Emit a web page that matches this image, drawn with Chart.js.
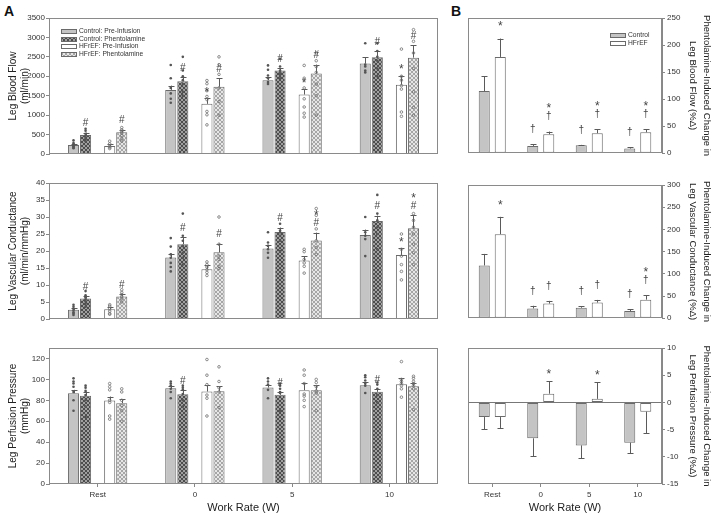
<!DOCTYPE html>
<html>
<head>
<meta charset="utf-8">
<script src="https://cdn.jsdelivr.net/npm/chart.js@4.4.1/dist/chart.umd.min.js"></script>
<style>
body { margin: 0; background: #fff; }
#fig { position: relative; width: 713px; height: 515px; overflow: hidden; font-family: "Liberation Sans", Arial, sans-serif; }
canvas { position: absolute; }
.tag { position: absolute; font-weight: bold; font-size: 14px; line-height: 1; color: #111; }
</style>
</head>
<body>
<div id="fig">
  <div class="tag" style="left:4px;top:4px">A</div>
  <div class="tag" style="left:451px;top:4px">B</div>
  <canvas id="flowA" width="440" height="160" style="left:0;top:0"></canvas>
  <canvas id="condA" width="440" height="165" style="left:0;top:160px"></canvas>
  <canvas id="pressA" width="440" height="190" style="left:0;top:325px"></canvas>
  <canvas id="flowB" width="258" height="160" style="left:455px;top:0"></canvas>
  <canvas id="condB" width="258" height="165" style="left:455px;top:160px"></canvas>
  <canvas id="pressB" width="258" height="190" style="left:455px;top:325px"></canvas>
</div>
<script>
const workRates = ["Rest", "0", "5", "10"];

// A: leg blood flow (ml/min), mean, SEM, individual subjects, marks
const flowCtrlPre = [230, 1650, 1900, 2330];
const flowCtrlPreSem = [40, 110, 70, 160];
const flowCtrlPreDots = [[350, 280, 250, 220, 200, 170, 150], [2290, 1950, 1700, 1560, 1420, 1320], [2280, 2170, 2020, 1950, 1850, 1800], [2850, 2300, 2250, 2150, 2100]];
const flowCtrlPhen = [490, 1870, 2150, 2490];
const flowCtrlPhenSem = [60, 110, 60, 150];
const flowCtrlPhenDots = [[650, 600, 520, 470, 420, 380, 330], [2500, 2150, 2000, 1900, 1800, 1600, 1500], [2450, 2250, 2150, 2100, 2050, 1950], [2850, 2650, 2500, 2400, 2200, 2000]];
const flowCtrlPhenMarks = ["#", "#", "#", "#"];
const flowHfPre = [207, 1290, 1530, 1780];
const flowHfPreSem = [45, 140, 140, 240];
const flowHfPreDots = [[330, 260, 200, 170, 140], [1890, 1810, 1630, 1480, 1400, 1095, 1010, 750], [2280, 1950, 1700, 1420, 1210, 1050, 950], [2700, 2000, 1900, 1760, 1670, 1080, 970]];
const flowHfPreMarks = ["", "*", "*", "*"];
const flowHfPhen = [560, 1730, 2070, 2480];
const flowHfPhenSem = [70, 220, 230, 320];
const flowHfPhenDots = [[680, 620, 580, 540, 480, 400, 330], [2500, 2300, 2050, 1700, 1350, 1000], [2600, 2400, 2250, 2100, 1800, 1500, 1000], [3200, 2900, 2600, 2200, 1600, 1200, 1000]];
const flowHfPhenMarks = ["#", "#", "#", "#"];

// A: leg vascular conductance (ml/min/mmHg)
const condCtrlPre = [2.7, 18.1, 20.7, 24.7];
const condCtrlPreSem = [0.5, 1.1, 1.1, 1.6];
const condCtrlPreDots = [[4.2, 3.6, 3.0, 2.5, 2.0, 1.6, 1.2], [23.8, 21.3, 19.0, 18.0, 16.5, 15.3, 14.0], [25.5, 22.5, 21.5, 20.5, 19.5, 18.0], [30.0, 25.5, 24.5, 23.5, 18.5]];
const condCtrlPhen = [6.0, 22.0, 25.6, 28.8];
const condCtrlPhenSem = [0.8, 2.0, 1.3, 1.6];
const condCtrlPhenDots = [[8.2, 7.0, 6.4, 5.8, 5.2, 4.5, 3.6], [31.0, 24.5, 23.0, 21.5, 19.5, 18.0, 16.0], [28.0, 26.0, 25.5, 24.5, 23.0, 20.0], [36.5, 31.0, 29.0, 27.0, 25.0, 20.5]];
const condCtrlPhenMarks = ["#", "#", "#", "#"];
const condHfPre = [2.9, 14.6, 17.2, 18.8];
const condHfPreSem = [0.5, 1.3, 1.2, 2.0];
const condHfPreDots = [[4.2, 3.8, 3.0, 2.3, 1.6, 1.4], [16.8, 16.0, 15.3, 14.5, 13.7, 12.8], [20.5, 19.8, 17.5, 16.5, 15.5, 13.5], [25.0, 20.5, 18.5, 16.0, 14.0, 11.5]];
const condHfPreMarks = ["", "", "", "*"];
const condHfPhen = [6.6, 19.6, 23.1, 26.7];
const condHfPhenSem = [0.8, 2.6, 2.3, 3.9];
const condHfPhenDots = [[8.6, 7.8, 7.2, 6.5, 6.0, 5.0], [30.0, 22.0, 18.5, 17.5, 15.5, 14.8], [32.5, 30.5, 26.5, 23.0, 21.0, 19.0], [31.0, 29.0, 27.0, 25.0, 22.0, 19.5, 16.0]];
const condHfPhenMarks = ["#", "#", "*#", "*#"];

// A: leg perfusion pressure (mmHg)
const pressCtrlPre = [86.8, 91.6, 92.2, 94.5];
const pressCtrlPreSem = [3.2, 2.5, 2.6, 2.9];
const pressCtrlPreDots = [[101, 98, 96, 93, 88, 80, 70], [98, 96, 94, 91, 88, 82], [101, 98, 95, 90, 82], [104, 102, 99, 96, 94, 87]];
const pressCtrlPhen = [84.3, 85.9, 85.2, 88.1];
const pressCtrlPhenSem = [4.0, 3.5, 2.6, 2.9];
const pressCtrlPhenDots = [[94, 92, 89, 85, 80, 74, 64], [94, 92, 90, 86, 80, 74], [96, 94, 91, 88, 87, 70], [97, 95, 91, 85, 78]];
const pressCtrlPhenMarks = ["", "#", "#", "#"];
const pressHfPre = [79.8, 88.4, 89.7, 95.4];
const pressHfPreSem = [3.8, 6.4, 6.7, 5.8];
const pressHfPreDots = [[96, 93, 90, 80, 78, 65, 62], [119, 104, 95, 85, 82, 65], [109, 104, 96, 86, 84, 80, 74], [117, 100, 98, 96, 94, 91, 83]];
const pressHfPhen = [77.2, 88.7, 89.7, 93.5];
const pressHfPhenSem = [3.8, 4.5, 4.5, 3.5];
const pressHfPhenDots = [[91, 88, 80, 75, 70, 60], [112, 98, 92, 88, 73], [100, 97, 93, 89, 87, 70], [103, 101, 98, 96, 94, 91, 71]];

// B: phentolamine-induced change (%)
const dFlowCtrl = [114.9, 13.5, 14.7, 8.6];
const dFlowCtrlSem = [27, 3, 0.7, 2];
const dFlowCtrlMarks = ["", "†", "†", "†"];
const dFlowHf = [178, 35, 36.9, 38.7];
const dFlowHfSem = [34, 5, 7, 6];
const dFlowHfMarks = ["*", "*†", "*†", "*†"];
const dCondCtrl = [118.8, 22, 23.5, 16.1];
const dCondCtrlSem = [26, 6, 3.7, 3.7];
const dCondCtrlMarks = ["", "†", "†", "†"];
const dCondHf = [189.3, 33, 35.2, 41.8];
const dCondHfSem = [39, 6, 6, 10];
const dCondHfMarks = ["*", "†", "†", "*†"];
const dPressCtrl = [-2.7, -6.6, -7.9, -7.4];
const dPressCtrlSem = [2.2, 3.3, 2.4, 1.9];
const dPressHf = [-2.7, 1.6, 0.65, -1.7];
const dPressHfSem = [2.0, 2.3, 3.1, 4.0];
const dPressHfMarks = ["", "*", "*", ""];

Chart.defaults.font.family = '"Liberation Sans", Arial, sans-serif';
Chart.defaults.color = '#333';

function hatch(base, ink) {
    const c = document.createElement('canvas');
    c.width = c.height = 4;
    const g = c.getContext('2d');
    g.fillStyle = base;
    g.fillRect(0, 0, 4, 4);
    g.fillStyle = ink;
    for (let i = 0; i < 4; i++) {
        g.fillRect(i, i, 1, 1);
        g.fillRect(3 - i, i, 1, 1);
    }
    return g.createPattern(c, 'repeat');
}

const fillCtrlPre = '#c4c4c4';
const fillCtrlPhen = hatch('#a0a0a0', '#4d4d4d');
const fillHfPre = '#ffffff';
const fillHfPhen = hatch('#e6e6e6', '#a6a6a6');

// the glyphs sit at different heights in the em box
const markFont = { '*': ['12px', 3.5], '#': ['10px', 0], '†': ['10px', 0] };

// error bars, subject dots, significance marks, frame and legend
const extras = {
    id: 'extras',
    afterDatasetsDraw(chart, args, opt) {
        const ctx = chart.ctx;
        const a = chart.chartArea;
        const y = chart.scales.y;
        ctx.save();
        ctx.lineWidth = 1;
        if (y.min < 0) {
            const z = Math.round(y.getPixelForValue(0)) + 0.5;
            ctx.strokeStyle = '#777';
            ctx.beginPath();
            ctx.moveTo(a.left, z);
            ctx.lineTo(a.right, z);
            ctx.stroke();
        }
        chart.data.datasets.forEach((ds, di) => {
            if (!ds.sem) return;
            chart.getDatasetMeta(di).data.forEach((bar, i) => {
                const v = ds.data[i];
                if (v == null) return;
                const x = Math.round(bar.x) + 0.5;
                const tip = y.getPixelForValue(v < 0 ? v - ds.sem[i] : v + ds.sem[i]);
                ctx.strokeStyle = '#5a5a5a';
                ctx.beginPath();
                ctx.moveTo(x, bar.y);
                ctx.lineTo(x, tip);
                ctx.moveTo(x - 3, Math.round(tip) + 0.5);
                ctx.lineTo(x + 3, Math.round(tip) + 0.5);
                ctx.stroke();
                if (ds.dots) {
                    ds.dots[i].forEach(d => {
                        ctx.beginPath();
                        ctx.arc(bar.x, y.getPixelForValue(d), 1.3, 0, Math.PI * 2);
                        if (ds.hollow) {
                            ctx.strokeStyle = '#707070';
                            ctx.lineWidth = 0.8;
                            ctx.stroke();
                            ctx.lineWidth = 1;
                        } else {
                            ctx.fillStyle = '#555';
                            ctx.fill();
                        }
                    });
                }
                if (ds.marks && ds.marks[i]) {
                    const m = ds.marks[i].split('').reverse();
                    ctx.fillStyle = '#444';
                    ctx.textAlign = 'center';
                    ctx.textBaseline = 'middle';
                    m.forEach((s, k) => {
                        const f = markFont[s];
                        ctx.font = f[0] + ' "Liberation Sans", Arial';
                        ctx.fillText(s, bar.x, tip - opt.gap - k * opt.step + f[1]);
                    });
                }
            });
        });
        ctx.strokeStyle = '#8a8a8a';
        ctx.strokeRect(Math.round(a.left) + 0.5, Math.round(a.top) + 0.5, Math.round(a.width) - 1, Math.round(a.height) - 1);
        if (opt.legend) {
            const L = opt.legend;
            let row = 0;
            ctx.font = '6.7px "Liberation Sans", Arial';
            ctx.textAlign = 'left';
            ctx.textBaseline = 'middle';
            chart.data.datasets.forEach(ds => {
                if (!ds.label) return;
                const bx = Math.round(a.left + L.dx);
                const by = Math.round(a.top + L.dy + row * 7.5);
                ctx.fillStyle = ds.backgroundColor;
                ctx.fillRect(bx, by - 2, 16, 5);
                ctx.strokeStyle = '#6a6a6a';
                ctx.strokeRect(bx + 0.5, by - 1.5, 15, 4);
                ctx.fillStyle = '#333';
                ctx.fillText(ds.label, bx + 18, by + 0.5);
                row++;
            });
        }
        ctx.restore();
    }
};

function yAxis(min, max, step, title, right, lastTick) {
    return {
        position: right ? 'right' : 'left',
        min: min,
        max: max,
        ticks: { stepSize: step, font: { size: 8 }, padding: right ? 2 : 1, color: '#333', callback: v => String(v) },
        grid: { drawOnChartArea: false, tickLength: 3, color: '#888' },
        border: { color: '#888' },
        title: {
            display: true, text: title, color: '#222',
            font: right ? { size: 9.5, lineHeight: 1.4 } : { size: 10 },
            padding: { top: right ? 0 : 7, bottom: 0 }
        },
        afterBuildTicks: s => { s.ticks = s.ticks.filter(t => t.value <= lastTick); },
        afterFit: s => { s.width = right ? 51 : 49; }
    };
}

function xAxis(bottom) {
    return {
        ticks: { display: bottom, font: { size: 8 }, padding: 3, color: '#333' },
        grid: { display: bottom, drawOnChartArea: false, offset: false, tickLength: 3, color: '#888' },
        border: { display: false },
        title: { display: bottom, text: 'Work Rate (W)', font: { size: 11 }, color: '#222', padding: { top: 0, bottom: 0 } },
        afterFit: s => { s.height = bottom ? 31 : 6; }
    };
}

function setA(label, fill, data, sem, dots, marks, hollow) {
    return {
        label, data, sem, dots, marks, hollow,
        backgroundColor: fill, borderColor: '#6a6a6a', borderWidth: 1,
        categoryPercentage: 0.62, barPercentage: 0.92
    };
}

function setB(label, fill, data, sem, marks) {
    return {
        label, data, sem, marks,
        backgroundColor: fill, borderColor: '#6a6a6a', borderWidth: 1, borderSkipped: false,
        categoryPercentage: 0.66, barPercentage: 0.69
    };
}

const spacer = { data: [null, null, null, null], categoryPercentage: 0.62, barPercentage: 0.92 };

function draw(id, datasets, y, bottom, padding, extraOpt) {
    new Chart(document.getElementById(id), {
        type: 'bar',
        data: { labels: workRates, datasets: datasets },
        options: {
            responsive: false,
            animation: false,
            layout: { padding: padding },
            plugins: { legend: { display: false }, tooltip: { enabled: false }, extras: extraOpt },
            scales: { x: xAxis(bottom), y: y }
        },
        plugins: [extras]
    });
}

const gapA = { gap: 9, step: 11 };
const gapB = { gap: 15, step: 11 };

draw('flowA', [
    setA('Control: Pre-Infusion', fillCtrlPre, flowCtrlPre, flowCtrlPreSem, flowCtrlPreDots, null, false),
    setA('Control: Phentolamine', fillCtrlPhen, flowCtrlPhen, flowCtrlPhenSem, flowCtrlPhenDots, flowCtrlPhenMarks, false),
    spacer,
    setA('HFrEF: Pre-Infusion', fillHfPre, flowHfPre, flowHfPreSem, flowHfPreDots, flowHfPreMarks, true),
    setA('HFrEF: Phentolamine', fillHfPhen, flowHfPhen, flowHfPhenSem, flowHfPhenDots, flowHfPhenMarks, true)
], yAxis(0, 3500, 500, ['Leg Blood Flow', '(ml/min)'], false, 3500), false,
    { top: 18, right: 2 }, { ...gapA, legend: { dx: 12, dy: 13 } });

draw('condA', [
    setA('Control: Pre-Infusion', fillCtrlPre, condCtrlPre, condCtrlPreSem, condCtrlPreDots, null, false),
    setA('Control: Phentolamine', fillCtrlPhen, condCtrlPhen, condCtrlPhenSem, condCtrlPhenDots, condCtrlPhenMarks, false),
    spacer,
    setA('HFrEF: Pre-Infusion', fillHfPre, condHfPre, condHfPreSem, condHfPreDots, condHfPreMarks, true),
    setA('HFrEF: Phentolamine', fillHfPhen, condHfPhen, condHfPhenSem, condHfPhenDots, condHfPhenMarks, true)
], yAxis(0, 40, 5, ['Leg Vascular Conductance', '(ml/min/mmHg)'], false, 40), false,
    { top: 23, right: 2 }, gapA);

draw('pressA', [
    setA('Control: Pre-Infusion', fillCtrlPre, pressCtrlPre, pressCtrlPreSem, pressCtrlPreDots, null, false),
    setA('Control: Phentolamine', fillCtrlPhen, pressCtrlPhen, pressCtrlPhenSem, pressCtrlPhenDots, pressCtrlPhenMarks, false),
    spacer,
    setA('HFrEF: Pre-Infusion', fillHfPre, pressHfPre, pressHfPreSem, pressHfPreDots, null, true),
    setA('HFrEF: Phentolamine', fillHfPhen, pressHfPhen, pressHfPhenSem, pressHfPhenDots, null, true)
], yAxis(0, 130, 20, ['Leg Perfusion Pressure', '(mmHg)'], false, 120), true,
    { top: 23, right: 2 }, gapA);

draw('flowB', [
    setB('Control', fillCtrlPre, dFlowCtrl, dFlowCtrlSem, dFlowCtrlMarks),
    setB('HFrEF', fillHfPre, dFlowHf, dFlowHfSem, dFlowHfMarks)
], yAxis(0, 250, 50, ['Phentolamine-Induced Change in', 'Leg Blood Flow (%Δ)'], true, 250), false,
    { top: 18, left: 13 }, { ...gapB, legend: { dx: 142, dy: 17 } });

draw('condB', [
    setB('Control', fillCtrlPre, dCondCtrl, dCondCtrlSem, dCondCtrlMarks),
    setB('HFrEF', fillHfPre, dCondHf, dCondHfSem, dCondHfMarks)
], yAxis(0, 300, 50, ['Phentolamine-Induced Change in', 'Leg Vascular Conductance (%Δ)'], true, 300), false,
    { top: 25, left: 13 }, gapB);

draw('pressB', [
    setB('Control', fillCtrlPre, dPressCtrl, dPressCtrlSem, null),
    setB('HFrEF', fillHfPre, dPressHf, dPressHfSem, dPressHfMarks)
], yAxis(-15, 10, 5, ['Phentolamine-Induced Change in', 'Leg Perfusion Pressure (%Δ)'], true, 10), true,
    { top: 23, left: 13 }, { gap: 10, step: 11 });
</script>
</body>
</html>
